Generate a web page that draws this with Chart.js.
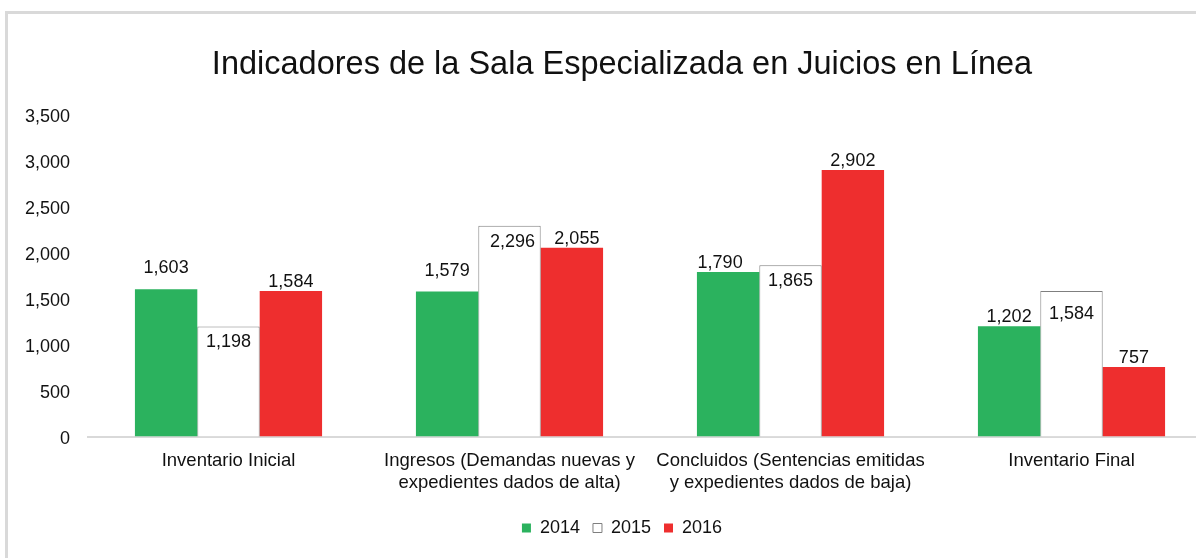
<!DOCTYPE html>
<html>
<head>
<meta charset="utf-8">
<script src="https://cdn.jsdelivr.net/npm/chart.js@4"></script>
<style>
    html, body { margin: 0; padding: 0; background: #fff; overflow: hidden; }
    #wrap { position: relative; width: 1196px; height: 558px; overflow: hidden; }
    #chart { position: absolute; left: 0; top: 0; }
    #frame {
        position: absolute; left: 5px; top: 11px; width: 2000px; height: 1000px;
        border-left: 3px solid #d9d9d9; border-top: 3px solid #d9d9d9;
    }
</style>
</head>
<body>
<div id="wrap">
    <canvas id="chart" width="1250" height="558"></canvas>
    <div id="frame"></div>
</div>
<script>
// Data
const categories = [
    'Inventario Inicial',
    ['Ingresos (Demandas nuevas y', 'expedientes dados de alta)'],
    ['Concluidos (Sentencias emitidas', 'y expedientes dados de baja)'],
    'Inventario Final'
];
const years = ['2014', '2015', '2016'];
const values2014 = [1603, 1579, 1790, 1202];
const values2015 = [1198, 2296, 1865, 1584];
const values2016 = [1584, 2055, 2902, 757];
const yTicks = [0, 500, 1000, 1500, 2000, 2500, 3000, 3500];

const fontFamily = '"Liberation Sans", Arial, Helvetica, sans-serif';

// small hand nudges so labels sit where they do in the original (dataset-index: [dx, dy])
const labelNudge = {
    '0-0': [0, -12], '0-1': [0, -11], '0-2': [-8, 0],
    '1-1': [3, 0], '1-3': [0, 7],
    '2-1': [5, 0]
};

// Draw value labels: 2015 inside the top of the bar, the others above it
const valueLabels = {
    id: 'valueLabels',
    afterDatasetsDraw(chart) {
        const ctx = chart.ctx;
        ctx.save();
        ctx.font = '18px ' + fontFamily;
        ctx.fillStyle = '#111';
        ctx.textAlign = 'center';
        ctx.textBaseline = 'middle';
        chart.data.datasets.forEach((ds, di) => {
            chart.getDatasetMeta(di).data.forEach((bar, i) => {
                const text = ds.data[i].toLocaleString('en-US');
                const n = labelNudge[di + '-' + i] || [0, 0];
                const dy = di === 1 ? 16 : -9;
                ctx.fillText(text, bar.x + n[0], bar.y + dy + n[1]);
            });
        });
        ctx.restore();
    }
};

const ctx = document.getElementById('chart').getContext('2d');
new Chart(ctx, {
    type: 'bar',
    data: {
        labels: categories,
        datasets: [
            { label: years[0], data: values2014, backgroundColor: '#2bb25e', borderWidth: 0 },
            { label: years[1], data: values2015, backgroundColor: '#ffffff', borderColor: '#7f7f7f', borderWidth: 1 },
            { label: years[2], data: values2016, backgroundColor: '#ee2e2e', borderWidth: 0 }
        ]
    },
    options: {
        responsive: false,
        animation: false,
        layout: { padding: { left: 20, right: 26, top: 0, bottom: 11 } },
        datasets: {
            bar: { categoryPercentage: 0.666, barPercentage: 1.0 }
        },
        plugins: {
            title: {
                display: true,
                text: 'Indicadores de la Sala Especializada en Juicios en Línea',
                color: '#111',
                font: { family: fontFamily, size: 32.5, weight: 'normal' },
                padding: { top: 46, bottom: 30 }
            },
            legend: {
                position: 'bottom',
                labels: {
                    boxWidth: 9,
                    boxHeight: 9,
                    padding: 13,
                    color: '#111',
                    font: { family: fontFamily, size: 18 }
                }
            },
            tooltip: { enabled: false }
        },
        scales: {
            x: {
                grid: { display: false },
                border: { display: true, color: '#d9d9d9', width: 2 },
                // extra room under the labels, keeps the axis where the original has it
                afterFit: (scale) => { scale.height += 7; },
                ticks: {
                    color: '#111',
                    padding: 5,
                    maxRotation: 0,
                    autoSkip: false,
                    font: { family: fontFamily, size: 18.5, lineHeight: 1.2 }
                }
            },
            y: {
                min: yTicks[0],
                max: yTicks[yTicks.length - 1],
                grid: { display: false, drawTicks: false },
                border: { display: false },
                afterBuildTicks: (scale) => { scale.ticks = yTicks.map(v => ({ value: v })); },
                afterFit: (scale) => { scale.width = 68; },
                ticks: {
                    color: '#111',
                    padding: 18,
                    labelOffset: 2,
                    font: { family: fontFamily, size: 18 },
                    callback: (v) => v.toLocaleString('en-US')
                }
            },
            // empty right-hand spacer so the title and legend centre where the original's do
            spacer: {
                type: 'linear',
                position: 'right',
                grid: { display: false, drawTicks: false },
                border: { display: false },
                ticks: { display: false },
                afterFit: (scale) => { scale.width = 12; }
            }
        }
    },
    plugins: [valueLabels]
});
</script>
</body>
</html>
